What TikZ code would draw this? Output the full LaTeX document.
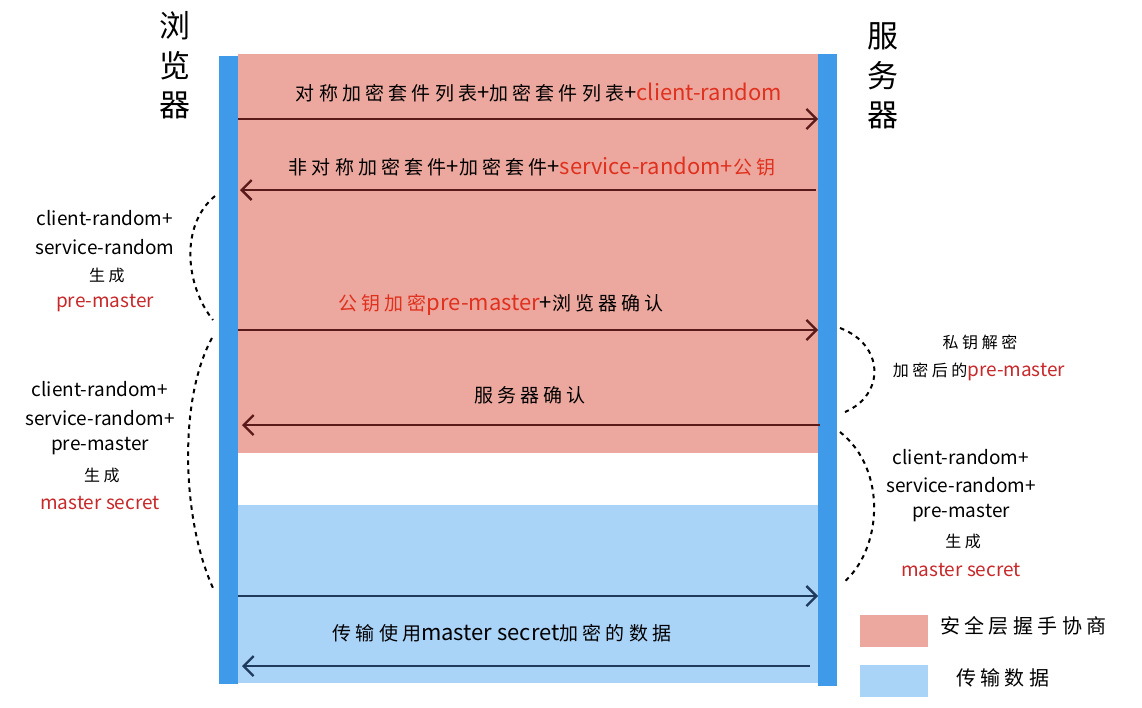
\documentclass[tikz,border=0pt]{standalone}
\usepackage{fontspec}
\setmainfont{Noto Sans CJK SC}
\newfontfamily\zh[LetterSpace=22]{Noto Sans CJK SC}
\newcommand\lat[1]{{\fontsize{22}{24}\selectfont #1}}
\newcommand\zz[1]{{\zh #1}}
\usetikzlibrary{arrows.meta}
\definecolor{pinkbg}{HTML}{ECA89E}
\definecolor{bluebg}{HTML}{AAD3F8}
\definecolor{barblue}{HTML}{3F9BEA}
\definecolor{redtxt}{HTML}{E0301E}
\definecolor{darkred}{HTML}{C8282A}
\definecolor{arrred}{HTML}{5A1A1A}
\definecolor{arrblue}{HTML}{1E3A5C}
\tikzset{
  msg/.style={line width=2.3pt,-{Straight Barb[length=10pt,width=20pt,line width=2.3pt]}},
  msgred/.style={msg,draw=arrred},
  msgblue/.style={msg,draw=arrblue},
  lbl/.style={font=\fontsize{19}{22}\selectfont,inner sep=0pt,anchor=center},
  side/.style={font=\fontsize{19}{22}\selectfont,inner sep=0pt,anchor=center},
  sidezh/.style={font=\fontsize{16}{18}\selectfont\zh,inner sep=0pt,anchor=center},
  title/.style={font=\fontsize{31}{32}\selectfont,inner sep=0pt,anchor=center},
  brace/.style={line width=2pt,dash pattern=on 4.5pt off 4.5pt,black},
  bar/.style={fill=barblue,draw=none},
}
\begin{document}
\begin{tikzpicture}[x=1pt,y=-1pt]
\useasboundingbox (0,0) rectangle (1142,707);
% backgrounds
\fill[pinkbg] (238,54) rectangle (818,453);
\fill[bluebg] (238,505) rectangle (818,683);
% lifelines
\node[bar,minimum width=19pt,minimum height=628pt,inner sep=0pt] (cli) at (228.5,370) {};
\node[bar,minimum width=19pt,minimum height=632pt,inner sep=0pt] (srv) at (827.5,370) {};
% titles
\node[title] (b1) at (175,26) {浏};
\node[title] (b2) at (175,66) {览};
\node[title] (b3) at (175,105) {器};
\node[title] (s1) at (883,36) {服};
\node[title] (s2) at (883,76) {务};
\node[title] (s3) at (883,115) {器};
% arrow endpoints
\coordinate (m1a) at (238,119); \coordinate (m1b) at (818,119);
\coordinate (m2a) at (816,190); \coordinate (m2b) at (240,190);
\coordinate (m3a) at (238,330); \coordinate (m3b) at (818,330);
\coordinate (m4a) at (820,425); \coordinate (m4b) at (242,425);
\coordinate (m5a) at (238,596); \coordinate (m5b) at (818,596);
\coordinate (m6a) at (810,666); \coordinate (m6b) at (242,666);
\draw[msgred] (m1a) -- (m1b);
\draw[msgred] (m2a) -- (m2b);
\draw[msgred] (m3a) -- (m3b);
\draw[msgred] (m4a) -- (m4b);
\draw[msgblue] (m5a) -- (m5b);
\draw[msgblue] (m6a) -- (m6b);
% arrow labels
\node[lbl] (t1) at (539,93) {\zz{对称加密套件列表}\lat{+}\zz{加密套件列表}\lat{+\textcolor{redtxt}{client-random}}};
\node[lbl] (t2) at (532,167) {\zz{非对称加密套件}\lat{+}\zz{加密套件}\lat{+\textcolor{redtxt}{service-random+}}\textcolor{redtxt}{\zz{公钥}}};
\node[lbl] (t3) at (501,305) {\textcolor{redtxt}{\zz{公钥加密}\lat{pre-master}}\lat{+}\zz{浏览器确认}};
\node[lbl] (t4) at (530,395) {\zz{服务器确认}};
\node[lbl] (t5) at (502,633) {\zz{传输使用}\lat{master secret}\zz{加密的数据}};
% left notes
\node[side] (l1) at (105,218) {client-random+};
\node[side] (l2) at (105,247) {service-random};
\node[sidezh] (l3) at (107,275) {生成};
\node[side,text=darkred] (l4) at (105,303) {pre-master};
\node[side] (k1) at (100,389) {client-random+};
\node[side] (k2) at (100,418) {service-random+};
\node[side] (k3) at (100,446) {pre-master};
\node[sidezh] (k4) at (102,475) {生成};
\node[side,text=darkred] (k5) at (100,503) {master secret};
% right notes
\node[sidezh] (r1) at (980,342) {私钥解密};
\node[side] (r2) at (979,372) {{\fontsize{16}{18}\selectfont\zh 加密后的}\textcolor{darkred}{pre-master}};
\node[side] (q1) at (961,457) {client-random+};
\node[side] (q2) at (961,485) {service-random+};
\node[side] (q3) at (961,513) {pre-master};
\node[sidezh] (q4) at (963,541) {生成};
\node[side,text=darkred] (q5) at (961,570) {master secret};
% dashed braces
\coordinate (ba1) at (215,196); \coordinate (ba2) at (213,320);
\coordinate (bb1) at (212,338); \coordinate (bb2) at (213,588);
\coordinate (bc1) at (840,328); \coordinate (bc2) at (845,412);
\coordinate (bd1) at (840,432); \coordinate (bd2) at (843,583);
\draw[brace] (ba1) .. controls (180,225) and (185,285) .. (ba2);
\draw[brace] (bb1) .. controls (178,400) and (182,520) .. (bb2);
\draw[brace] (bc1) .. controls (885,345) and (885,395) .. (bc2);
\draw[brace] (bd1) .. controls (888,470) and (882,550) .. (bd2);
% legend
\node[fill=pinkbg,minimum width=68pt,minimum height=32pt,inner sep=0pt] (lg1) at (894,631) {};
\node[fill=bluebg,minimum width=68pt,minimum height=32pt,inner sep=0pt] (lg2) at (894,681) {};
\node[anchor=west,inner sep=0pt,font=\fontsize{20}{22}\selectfont\zh] (lt1) at (940,626) {安全层握手协商};
\node[anchor=west,inner sep=0pt,font=\fontsize{20}{22}\selectfont\zh] (lt2) at (956,678) {传输数据};
\end{tikzpicture}
\end{document}
